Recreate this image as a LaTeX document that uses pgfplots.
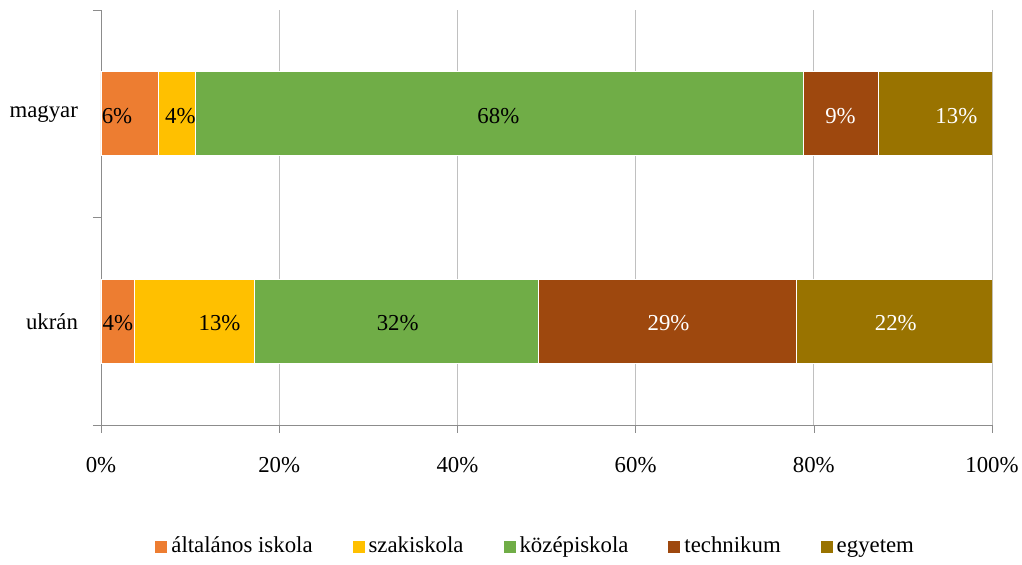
\documentclass[border=0pt]{standalone}
\usepackage{fontspec}
\setmainfont{Liberation Serif}
\usepackage{pgfplots}
\pgfplotsset{compat=1.18}
\definecolor{cA}{HTML}{ED7D31}
\definecolor{cB}{HTML}{FFC000}
\definecolor{cC}{HTML}{70AD47}
\definecolor{cD}{HTML}{9E480E}
\definecolor{cE}{HTML}{997300}
\definecolor{axisgray}{HTML}{8C8C8C}
\definecolor{gridgray}{HTML}{C0C0C0}
\begin{document}
\begin{tikzpicture}
\pgfplotsset{every axis/.append style={font=\fontsize{11.4}{13}\selectfont}}
% bars
\begin{axis}[
  name=ax,
  width=445.5pt, height=207.5pt, scale only axis,
  xbar stacked, bar width=0.404,
  xmin=0, xmax=100, ymin=-0.5, ymax=1.5,
  axis x line*=bottom, axis y line*=left,
  axis line style={draw=axisgray},
  tick align=outside, major tick length=4pt,
  tick style={draw=axisgray},
  xtick={0,20,40,60,80,100},
  xticklabel={\pgfmathprintnumber{\tick}\%},
  /pgf/number format/assume math mode=true,
  xticklabel style={inner sep=0pt, yshift=-11.8pt},
  xmajorgrids, grid style={draw=gridgray},
  ytick={-0.5,0.5,1.5}, yticklabels={,,},
  extra y ticks={0,1}, extra y tick labels={ukrán,magyar},
  extra y tick style={major tick length=0pt, yticklabel style={xshift=-8pt}},
  legend style={at={(0.489,-0.294)}, anchor=center, draw=none,
    legend columns=-1, nodes={text height=1.6ex, text depth=0.45ex},
    /tikz/every even column/.append style={column sep=18pt}},
  legend image code/.code={\fill[#1,draw=none] (0pt,-3pt) rectangle (6pt,3pt);},
]
\addplot[fill=cA, draw=white] coordinates {(6.4,1) (3.8,0)};
\addplot[fill=cB, draw=white] coordinates {(4.2,1) (13.4,0)};
\addplot[fill=cC, draw=white] coordinates {(68.2,1) (31.9,0)};
\addplot[fill=cD, draw=white] coordinates {(8.5,1) (29.0,0)};
\addplot[fill=cE, draw=white] coordinates {(12.7,1) (21.9,0)};
\legend{általános iskola, szakiskola, középiskola, technikum, egyetem}
\end{axis}
% data labels
\begin{axis}[
  width=445.5pt, height=207.5pt, scale only axis,
  xmin=0, xmax=100, ymin=-0.5, ymax=1.5, hide axis,
  nodes near coords, point meta=explicit symbolic,
  every node near coord/.append style={anchor=center, inner sep=0pt, yshift=-1pt},
]
\addplot[draw=none, mark=none, nodes near coords style={text=black}] coordinates {
  (1.8,1) [6\%] (8.9,1) [4\%] (44.6,1) [68\%]
  (1.9,0) [4\%] (13.3,0) [13\%] (33.3,0) [32\%]
};
\addplot[draw=none, mark=none, nodes near coords style={text=white}] coordinates {
  (83.0,1) [9\%] (96.0,1) [13\%]
  (63.7,0) [29\%] (89.2,0) [22\%]
};
\end{axis}
\path (ax.south west) ++(-50.5pt,-67.5pt) rectangle ([shift={(15pt,5pt)}]ax.north east);
\end{tikzpicture}
\end{document}
